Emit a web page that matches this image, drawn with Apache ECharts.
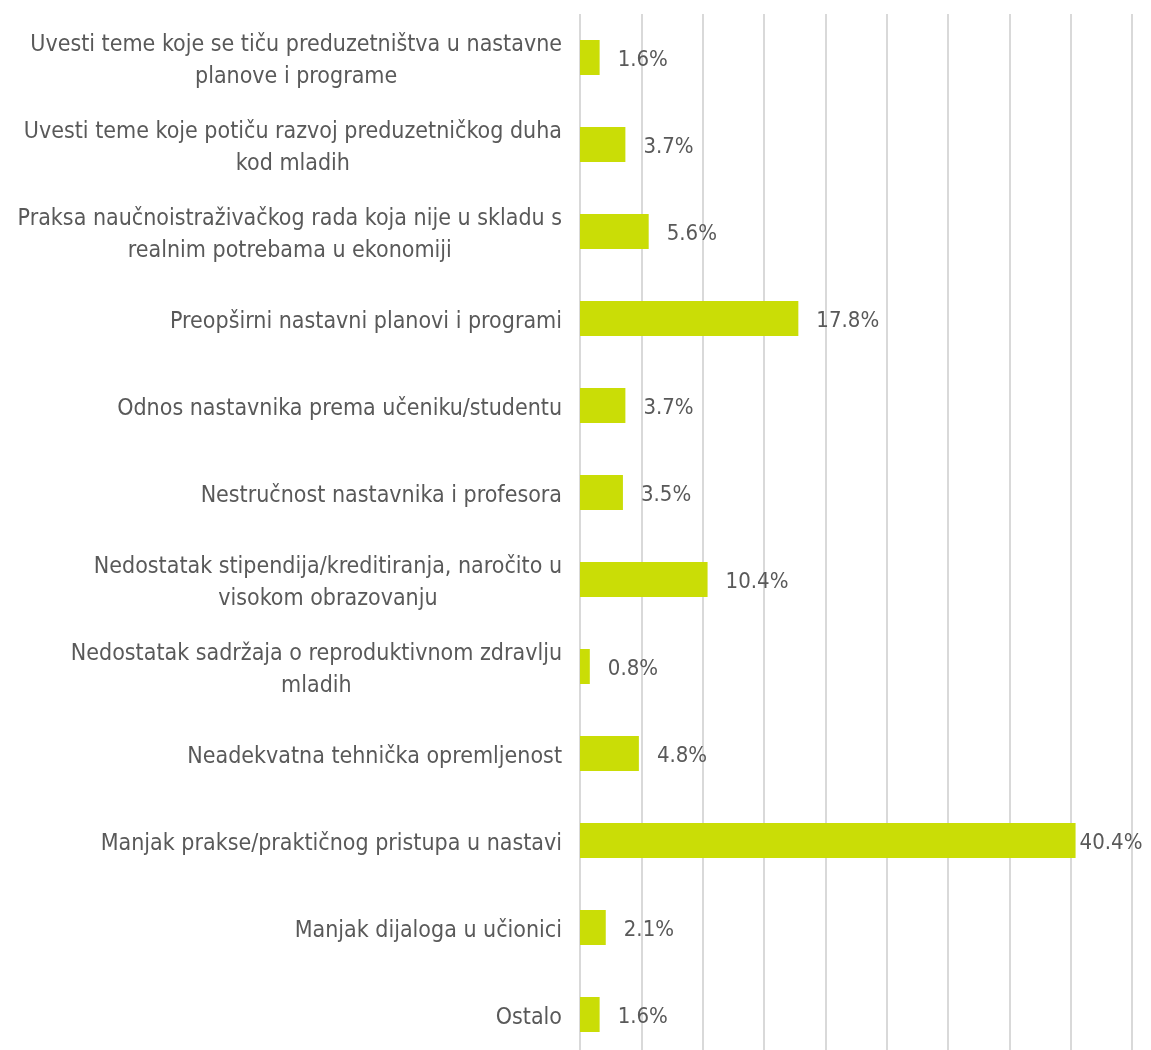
<!DOCTYPE html>
<html>
<head>
<meta charset="utf-8">
<script src="https://cdn.jsdelivr.net/npm/echarts@6/dist/echarts.min.js"></script>
<style>
  html, body { margin: 0; padding: 0; background: #fff; }
  #chart { width: 1151px; height: 1050px; }
</style>
</head>
<body>
<div id="chart"></div>
<script>
// kategorije, odozgo prema dolje
const categories = [
  'Uvesti teme koje se tiču preduzetništva u nastavne\nplanove i programe',
  'Uvesti teme koje potiču razvoj preduzetničkog duha\nkod mladih',
  'Praksa naučnoistraživačkog rada koja nije u skladu s\nrealnim potrebama u ekonomiji',
  'Preopširni nastavni planovi i programi',
  'Odnos nastavnika prema učeniku/studentu',
  'Nestručnost nastavnika i profesora',
  'Nedostatak stipendija/kreditiranja, naročito u\nvisokom obrazovanju',
  'Nedostatak sadržaja o reproduktivnom zdravlju\nmladih',
  'Neadekvatna tehnička opremljenost',
  'Manjak prakse/praktičnog pristupa u nastavi',
  'Manjak dijaloga u učionici',
  'Ostalo'
]
const values = [1.6, 3.7, 5.6, 17.8, 3.7, 3.5, 10.4, 0.8, 4.8, 40.4, 2.1, 1.6]

const textColor = '#595959'
const font = '"DejaVu Sans Condensed", "Liberation Sans Narrow", sans-serif'

const chart = echarts.init(document.getElementById('chart'))
chart.setOption({
  animation: false,
  grid: {
    left: 580,
    right: 19,
    top: 14,
    bottom: -8,
    containLabel: false,
    outerBoundsMode: 'none'
  },
  xAxis: {
    type: 'value',
    min: 0,
    max: 45,
    interval: 5,
    axisLabel: { show: false },
    axisLine: { show: false },
    axisTick: { show: false },
    splitLine: {
      show: true,
      lineStyle: { color: '#d9d9d9', width: 2 }
    }
  },
  yAxis: {
    type: 'category',
    inverse: true,
    data: categories,
    axisLine: { show: false },
    axisTick: { show: false },
    axisLabel: {
      margin: 18,
      color: textColor,
      fontFamily: font,
      fontSize: 23,
      padding: [8, 0, 0, 0],
      // svaki red centriran unutar bloka
      formatter: function (v) {
        return v.split('\n').map(function (l) { return '{c|' + l + '}' }).join('\n')
      },
      rich: {
        c: {
          align: 'center',
          color: textColor,
          fontFamily: font,
          fontSize: 23,
          lineHeight: 32
        }
      }
    }
  },
  series: [
    {
      type: 'bar',
      // najduza traka: oznaka prislonjena uz traku da stane u sliku
      data: values.map(function (v) {
        return v > 40 ? { value: v, label: { distance: 4 } } : v
      }),
      barWidth: 35,
      itemStyle: { color: '#cadd06' },
      label: {
        show: true,
        position: 'right',
        distance: 18,
        offset: [0, 3],
        color: textColor,
        fontFamily: font,
        fontSize: 22,
        formatter: function (p) { return p.value.toFixed(1) + '%' }
      }
    }
  ]
})
</script>
</body>
</html>
